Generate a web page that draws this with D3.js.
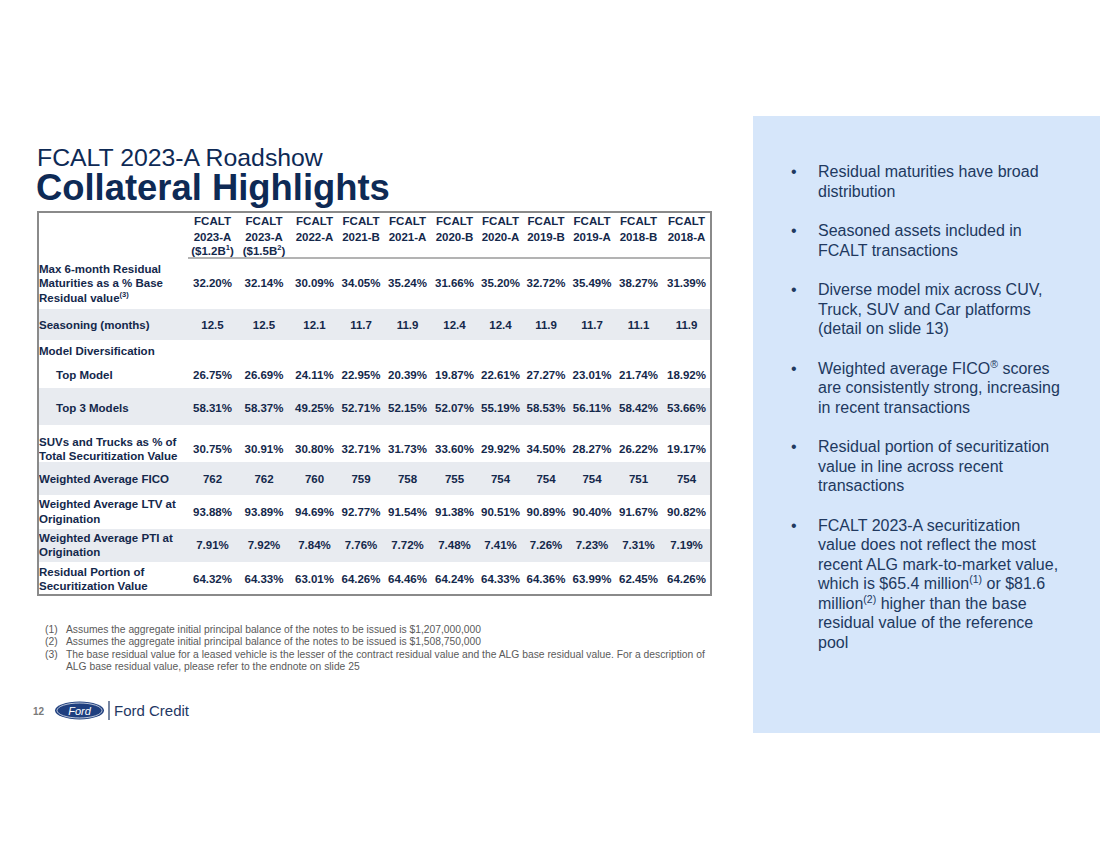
<!DOCTYPE html>
<html>
<head>
<meta charset="utf-8">
<script src="https://cdn.jsdelivr.net/npm/d3@7"></script>
<style>
  html, body { margin: 0; padding: 0; background: #ffffff; }
  svg { display: block; }
  text { font-family: "Liberation Sans", Arial, sans-serif; }
</style>
</head>
<body>
<svg id="chart" width="1100" height="849"></svg>
<script>
// ---------------- DATA ----------------
const dealNames   = ["2023-A", "2023-A", "2022-A", "2021-B", "2021-A", "2020-B", "2020-A", "2019-B", "2019-A", "2018-B", "2018-A"];
const dealSizes   = ["$1.2B", "$1.5B", "", "", "", "", "", "", "", "", ""];
const dealSizeNotes = ["1", "2", "", "", "", "", "", "", "", "", ""];

const maxResidualMaturities = [32.20, 32.14, 30.09, 34.05, 35.24, 31.66, 35.20, 32.72, 35.49, 38.27, 31.39];
const seasoningMonths       = [12.5, 12.5, 12.1, 11.7, 11.9, 12.4, 12.4, 11.9, 11.7, 11.1, 11.9];
const topModelShare         = [26.75, 26.69, 24.11, 22.95, 20.39, 19.87, 22.61, 27.27, 23.01, 21.74, 18.92];
const top3ModelsShare       = [58.31, 58.37, 49.25, 52.71, 52.15, 52.07, 55.19, 58.53, 56.11, 58.42, 53.66];
const suvTruckShare         = [30.75, 30.91, 30.80, 32.71, 31.73, 33.60, 29.92, 34.50, 28.27, 26.22, 19.17];
const weightedFico          = [762, 762, 760, 759, 758, 755, 754, 754, 754, 751, 754];
const weightedLtv           = [93.88, 93.89, 94.69, 92.77, 91.54, 91.38, 90.51, 90.89, 90.40, 91.67, 90.82];
const weightedPti           = [7.91, 7.92, 7.84, 7.76, 7.72, 7.48, 7.41, 7.26, 7.23, 7.31, 7.19];
const residualPortion       = [64.32, 64.33, 63.01, 64.26, 64.46, 64.24, 64.33, 64.36, 63.99, 62.45, 64.26];

const rowLabels = [
  ["Max 6-month Residual", "Maturities as a % Base", "Residual value"],
  ["Seasoning (months)"],
  ["Model Diversification"],
  ["Top Model"],
  ["Top 3 Models"],
  ["SUVs and Trucks as % of", "Total Securitization Value"],
  ["Weighted Average FICO"],
  ["Weighted Average LTV at", "Origination"],
  ["Weighted Average PTI at", "Origination"],
  ["Residual Portion of", "Securitization Value"]
];

// superscript segments are written as {sup}
const bullets = [
  ["Residual maturities have broad", "distribution"],
  ["Seasoned assets included in", "FCALT transactions"],
  ["Diverse model mix across CUV,", "Truck, SUV and Car platforms", "(detail on slide 13)"],
  ["Weighted average FICO{\u00AE} scores", "are consistently strong, increasing", "in recent transactions"],
  ["Residual portion of securitization", "value in line across recent", "transactions"],
  ["FCALT 2023-A securitization", "value does not reflect the most", "recent ALG mark-to-market value,",
   "which is $65.4 million{(1)} or $81.6", "million{(2)} higher than the base",
   "residual value of the reference", "pool"]
];

const footnotes = [
  ["(1)", "Assumes the aggregate initial principal balance of the notes to be issued is $1,207,000,000"],
  ["(2)", "Assumes the aggregate initial principal balance of the notes to be issued is $1,508,750,000"],
  ["(3)", "The base residual value for a leased vehicle is the lesser of the contract residual value and the ALG base residual value. For a description of"],
  ["",    "ALG base residual value, please refer to the endnote on slide 25"]
];

const titleTop = "FCALT 2023-A Roadshow";
const titleMain = "Collateral Highlights";
const pageNumber = "12";
const brandName = "Ford Credit";

// ---------------- LAYOUT / STYLE ----------------
const NAVY = "#14284b";
const TITLE_NAVY = "#0e2a55";
const BULLET_COLOR = "#21395f";
const SHADE = "#e8ebf0";
const BORDER = "#8a8a8a";

const pct = v => d3.format(".2f")(v) + "%";
const one = v => d3.format(".1f")(v);
const int = v => d3.format("d")(v);

const rowSpecs = [
  {values: maxResidualMaturities, fmt: pct, y0: 258, y1: 309, cy: 283, shaded: false, indent: false, note: "3"},
  {values: seasoningMonths,       fmt: one, y0: 309, y1: 340, cy: 325, shaded: true,  indent: false},
  {values: null,                  fmt: null, y0: 340, y1: 362, cy: 351, shaded: false, indent: false},
  {values: topModelShare,         fmt: pct, y0: 362, y1: 388, cy: 375, shaded: false, indent: true},
  {values: top3ModelsShare,       fmt: pct, y0: 388, y1: 425, cy: 407.5, shaded: true,  indent: true},
  {values: suvTruckShare,         fmt: pct, y0: 425, y1: 462, cy: 449, shaded: false, indent: false},
  {values: weightedFico,          fmt: int, y0: 462, y1: 495, cy: 478.5, shaded: true,  indent: false},
  {values: weightedLtv,           fmt: pct, y0: 495, y1: 529, cy: 511.5, shaded: false, indent: false},
  {values: weightedPti,           fmt: pct, y0: 529, y1: 562, cy: 545, shaded: true,  indent: false},
  {values: residualPortion,       fmt: pct, y0: 562, y1: 594, cy: 579, shaded: false, indent: false}
];
rowSpecs.forEach((r, i) => r.label = rowLabels[i]);

const tableLeft = 38, tableRight = 711, tableTop = 212, tableBottom = 595;
const labelColRight = 188;
const colWidths = [49, 54, 47, 46, 47, 47, 45, 46, 46, 47, 49];
const colKeys = d3.range(dealNames.length);
const colEdges = [labelColRight, ...Array.from(d3.cumsum(colWidths), c => labelColRight + c)];
const x = d3.scaleOrdinal()
  .domain(colKeys)
  .range(colKeys.map(i => (colEdges[i] + colEdges[i + 1]) / 2));

const svg = d3.select("#chart");
svg.append("rect").attr("width", 1100).attr("height", 849).attr("fill", "#ffffff");

// helper: write text with {superscript} segments
function richText(sel, str, supSize, rise) {
  const parts = str.split(/(\{[^}]*\})/).filter(p => p.length);
  let pendingDy = 0;
  parts.forEach(p => {
    if (p.startsWith("{")) {
      sel.append("tspan").attr("font-size", supSize).attr("dy", pendingDy - rise).text(p.slice(1, -1));
      pendingDy = rise;
    } else {
      const t = sel.append("tspan").text(p);
      if (pendingDy) t.attr("dy", pendingDy);
      pendingDy = 0;
    }
  });
}

// ---------------- RIGHT PANEL ----------------
svg.append("rect")
  .attr("x", 753).attr("y", 116).attr("width", 347).attr("height", 617)
  .attr("fill", "#d6e6fa");

const bulletLine = 19.5;
let by = 177;
const bulletG = svg.append("g");
bullets.forEach(lines => {
  bulletG.append("text")
    .attr("x", 791).attr("y", by)
    .attr("font-size", 16).attr("fill", BULLET_COLOR)
    .text("\u2022");
  lines.forEach((ln, j) => {
    const t = bulletG.append("text")
      .attr("x", 818).attr("y", by + j * bulletLine)
      .attr("font-size", 16).attr("fill", BULLET_COLOR);
    richText(t, ln, 10.5, 6);
  });
  by += lines.length * bulletLine + 20;
});

// ---------------- TITLES ----------------
svg.append("text")
  .attr("x", 37).attr("y", 166)
  .attr("font-size", 24.8).attr("fill", TITLE_NAVY)
  .text(titleTop);
svg.append("text")
  .attr("x", 36).attr("y", 200)
  .attr("font-size", 36.4).attr("font-weight", "bold").attr("fill", TITLE_NAVY)
  .text(titleMain);

// ---------------- TABLE ----------------
const table = svg.append("g");

table.selectAll("rect.shade")
  .data(rowSpecs.filter(r => r.shaded))
  .join("rect")
  .attr("class", "shade")
  .attr("x", tableLeft + 1).attr("width", tableRight - tableLeft - 2)
  .attr("y", d => d.y0).attr("height", d => d.y1 - d.y0)
  .attr("fill", SHADE);

// header
const headerLineY = [220.5, 236.5, 250.5];
colKeys.forEach(i => {
  const g = table.append("g");
  g.append("text").attr("x", x(i)).attr("y", headerLineY[0]).text("FCALT");
  g.append("text").attr("x", x(i)).attr("y", headerLineY[1]).text(dealNames[i]);
  if (dealSizes[i]) {
    const t = g.append("text").attr("x", x(i)).attr("y", headerLineY[2]);
    richText(t, "(" + dealSizes[i] + "{" + dealSizeNotes[i] + "})", 7.5, 4);
  }
  g.selectAll("text")
    .attr("text-anchor", "middle").attr("dominant-baseline", "central")
    .attr("font-size", 11.5).attr("font-weight", "bold").attr("fill", NAVY);
});

// row labels
rowSpecs.forEach(r => {
  const n = r.label.length;
  const lh = 14.5;
  r.label.forEach((ln, j) => {
    const t = table.append("text")
      .attr("x", r.indent ? 56 : 39)
      .attr("y", r.cy + (j - (n - 1) / 2) * lh)
      .attr("dominant-baseline", "central")
      .attr("font-size", 11.5).attr("font-weight", "bold").attr("fill", NAVY);
    richText(t, ln + (r.note && j === n - 1 ? "{(" + r.note + ")}" : ""), 7.5, 4);
  });
});

// values
rowSpecs.filter(r => r.values).forEach(r => {
  table.append("g").selectAll("text")
    .data(r.values)
    .join("text")
    .attr("x", (d, i) => x(i))
    .attr("y", r.cy)
    .attr("text-anchor", "middle").attr("dominant-baseline", "central")
    .attr("font-size", 11.5).attr("font-weight", "bold").attr("fill", NAVY)
    .text(d => r.fmt(d));
});

// borders
table.append("line")
  .attr("x1", labelColRight).attr("x2", tableRight)
  .attr("y1", 258).attr("y2", 258)
  .attr("stroke", "#9a9a9a").attr("stroke-width", 1.5);
table.append("rect")
  .attr("x", tableLeft).attr("y", tableTop)
  .attr("width", tableRight - tableLeft).attr("height", tableBottom - tableTop)
  .attr("fill", "none").attr("stroke", BORDER).attr("stroke-width", 2);

// ---------------- FOOTNOTES ----------------
const fnG = svg.append("g");
footnotes.forEach((f, i) => {
  const y = 633 + i * 12.3;
  if (f[0]) fnG.append("text").attr("x", 45).attr("y", y).text(f[0]);
  fnG.append("text").attr("x", 66).attr("y", y).text(f[1]);
});
fnG.selectAll("text").attr("font-size", 10.3).attr("fill", "#5a5a5a");

// ---------------- FOOTER ----------------
const foot = svg.append("g");
foot.append("text")
  .attr("x", 33).attr("y", 715)
  .attr("font-size", 10).attr("font-weight", "bold").attr("fill", "#7a7a7a")
  .text(pageNumber);
foot.append("ellipse")
  .attr("cx", 79.5).attr("cy", 710.5).attr("rx", 24.5).attr("ry", 9)
  .attr("fill", "#1f3f7f");
foot.append("ellipse")
  .attr("cx", 79.5).attr("cy", 710.5).attr("rx", 22.5).attr("ry", 7.5)
  .attr("fill", "none").attr("stroke", "#ffffff").attr("stroke-width", 0.7);
foot.append("text")
  .attr("x", 79.5).attr("y", 714.5)
  .attr("text-anchor", "middle")
  .attr("font-family", "'DejaVu Serif', serif").attr("font-style", "italic")
  .attr("font-size", 11).attr("fill", "#ffffff")
  .text("Ford");
foot.append("line")
  .attr("x1", 109).attr("x2", 109).attr("y1", 701).attr("y2", 720)
  .attr("stroke", "#1f3864").attr("stroke-width", 1.2);
foot.append("text")
  .attr("x", 114).attr("y", 716)
  .attr("font-size", 15).attr("fill", "#1f3864")
  .text(brandName);
</script>
</body>
</html>
